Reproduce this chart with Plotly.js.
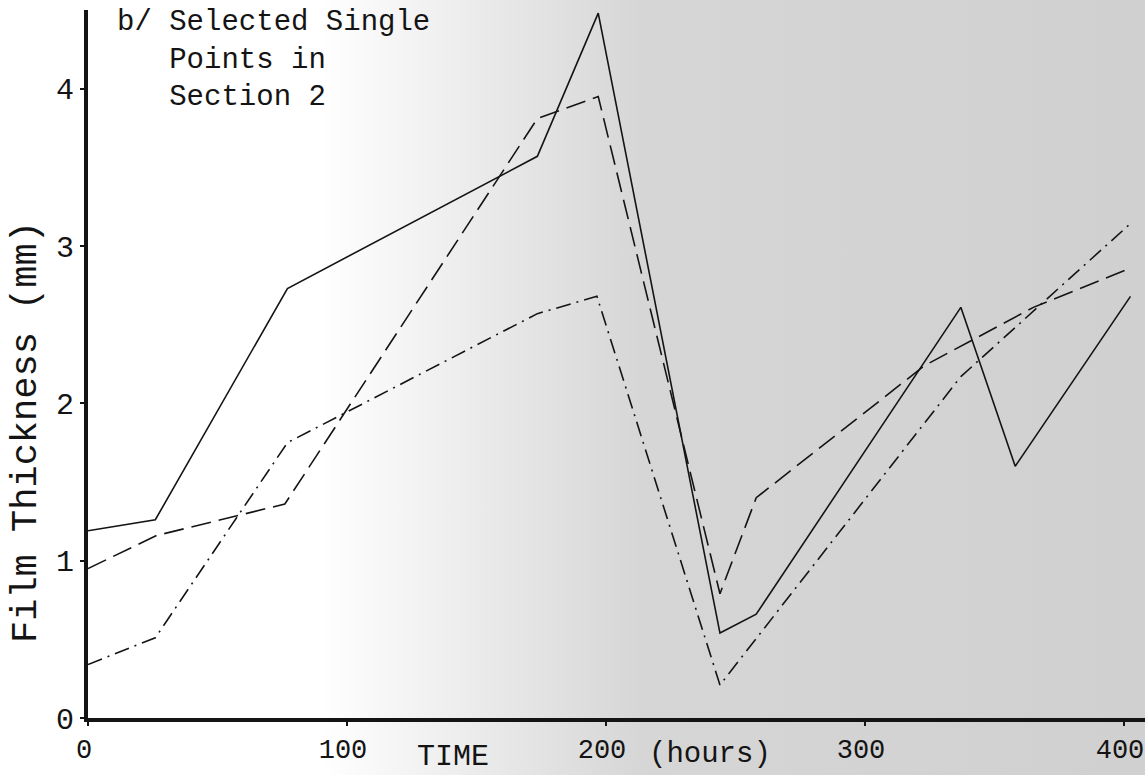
<!DOCTYPE html>
<html>
<head>
<meta charset="utf-8">
<script src="https://cdn.plot.ly/plotly-3.0.1.min.js"></script>
<style>
  html, body { margin: 0; padding: 0; background: #ffffff; }
  #chart { width: 1145px; height: 775px; }
</style>
</head>
<body>
<div id="chart"></div>
<script>
// ---- data (time in hours, film thickness in mm) ----
const solidTime  = [0, 26, 77, 173.5, 197, 244, 258, 337, 358, 402.5];
const solidThick = [1.19, 1.26, 2.73, 3.57, 4.48, 0.54, 0.66, 2.61, 1.60, 2.68];

const dashTime  = [0, 26.5, 76, 173.5, 197, 244, 258, 323, 365, 402.5];
const dashThick = [0.95, 1.16, 1.36, 3.81, 3.95, 0.79, 1.40, 2.24, 2.61, 2.86];

const dashDotTime  = [0, 26, 77, 173.5, 196.5, 244, 337, 403];
const dashDotThick = [0.34, 0.51, 1.75, 2.57, 2.68, 0.21, 2.17, 3.15];

const xTickVals = [0, 100, 200, 300, 400];
const xTickText = ['0', '100', '200', '300', '400'];
const yTickVals = [0, 1, 2, 3, 4];
const yTickText = ['0', '1', '2', '3', '4'];

const titleLines = ['b/ Selected Single', '\u00a0\u00a0\u00a0Points in', '\u00a0\u00a0\u00a0Section 2'];
const yTitle = 'Film Thickness (mm)';
const xTitleLeft = 'TIME';
const xTitleRight = '(hours)';

// ---- styling ----
const FONT = '"Liberation Mono", "DejaVu Sans Mono", monospace';
const INK = '#141414';

const traces = [
  { x: solidTime, y: solidThick, mode: 'lines',
    line: { color: INK, width: 1.6, dash: 'solid' }, name: 'solid' },
  { x: dashTime, y: dashThick, mode: 'lines',
    line: { color: INK, width: 1.6, dash: '20px,8px' }, name: 'dashed' },
  { x: dashDotTime, y: dashDotThick, mode: 'lines',
    line: { color: INK, width: 1.6, dash: '15px,6px,2px,6px' }, name: 'dash-dot' }
];

// paper-stipple background approximation (white on the left, grey to the right)
const bgSvg = '<svg xmlns="http://www.w3.org/2000/svg" width="1145" height="775">' +
  '<defs><linearGradient id="g" x1="0" y1="0" x2="1" y2="0">' +
  '<stop offset="0" stop-color="#ffffff"/>' +
  '<stop offset="0.28" stop-color="#ffffff"/>' +
  '<stop offset="0.56" stop-color="#d6d6d6"/>' +
  '<stop offset="1" stop-color="#d0d0d0"/>' +
  '</linearGradient></defs>' +
  '<rect width="1145" height="775" fill="url(#g)"/></svg>';
const bgSrc = 'data:image/svg+xml;base64,' + btoa(bgSvg);

const L = 88, R = 0, T = 10, B = 57;
const W = 1145 - L - R, H = 775 - T - B;
const PX_PER_HOUR = 2.59;
const px = v => (v - L) / W;            // page x -> paper x
const py = v => (775 - B - v) / H;      // page y -> paper y

const annotations = [
  { text: titleLines.join('<br>'), x: px(115), y: py(4), xanchor: 'left', yanchor: 'top', size: 29, align: 'left' },
  { text: xTitleLeft, x: px(453), y: py(757), xanchor: 'center', yanchor: 'middle', size: 30 },
  { text: xTitleRight, x: px(710), y: py(754), xanchor: 'center', yanchor: 'middle', size: 29 },
  { text: yTitle, x: px(26), y: py(432), xanchor: 'center', yanchor: 'middle', size: 37, angle: -90 }
].map(a => ({
  text: a.text, xref: 'paper', yref: 'paper', x: a.x, y: a.y,
  xanchor: a.xanchor, yanchor: a.yanchor, showarrow: false,
  align: a.align || 'center',
  textangle: a.angle || 0,
  font: { family: FONT, size: a.size, color: INK }
}));

const layout = {
  width: 1145, height: 775,
  margin: { l: L, r: R, t: T, b: B, pad: 0 },
  paper_bgcolor: '#ffffff',
  plot_bgcolor: 'rgba(0,0,0,0)',
  showlegend: false,
  images: [{
    source: bgSrc, xref: 'paper', yref: 'paper',
    x: -L / W, y: 1 + T / H, sizex: 1145 / W, sizey: 775 / H,
    xanchor: 'left', yanchor: 'top', sizing: 'stretch', layer: 'below'
  }],
  xaxis: {
    range: [0, W / PX_PER_HOUR],
    tickmode: 'array', tickvals: xTickVals, ticktext: xTickText,
    ticks: 'outside', ticklen: 4, tickwidth: 2, tickcolor: INK,
    showline: true, linecolor: INK, linewidth: 4,
    showgrid: false, zeroline: false,
    ticklabelshift: -4,
    tickfont: { family: FONT, size: 27, color: INK },
    fixedrange: true
  },
  yaxis: {
    range: [0, 4.5],
    tickmode: 'array', tickvals: yTickVals, ticktext: yTickText,
    ticks: 'outside', ticklen: 4, tickwidth: 2, tickcolor: INK,
    showline: true, linecolor: INK, linewidth: 4,
    showgrid: false, zeroline: false,
    tickfont: { family: FONT, size: 30, color: INK },
    fixedrange: true
  },
  annotations: annotations
};

Plotly.newPlot('chart', traces, layout, { displayModeBar: false, staticPlot: true });
</script>
</body>
</html>
